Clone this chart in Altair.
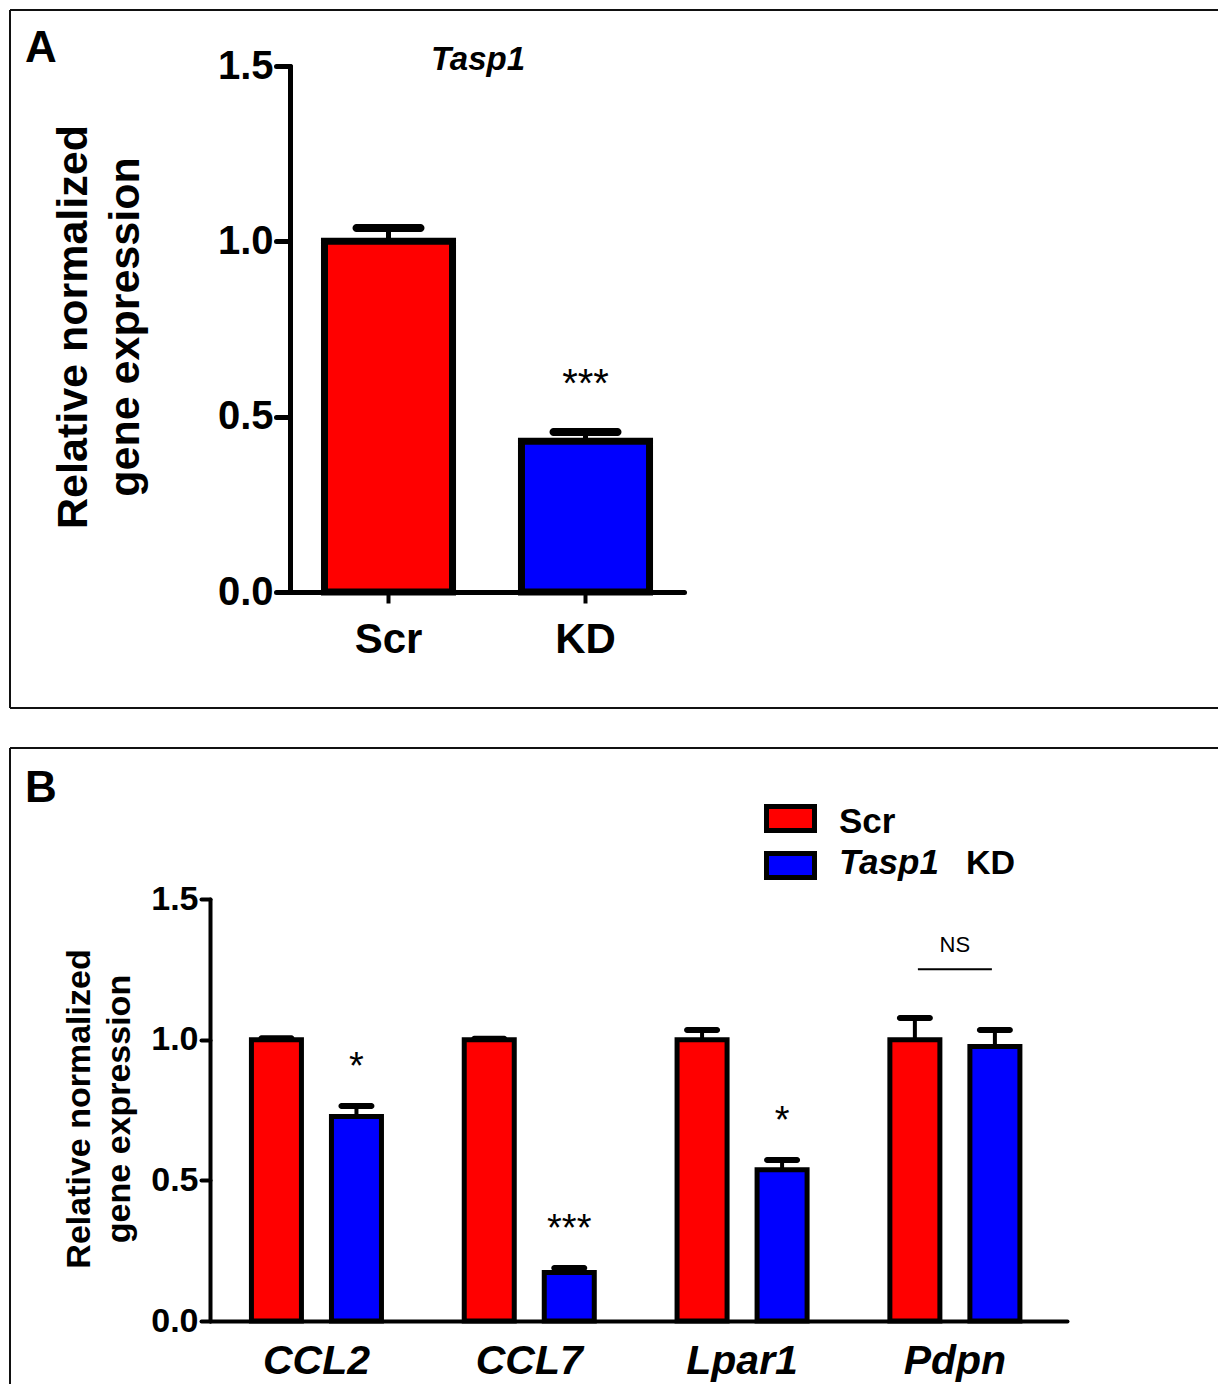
import altair as alt
import pandas as pd

FONT = "Liberation Sans"

# ---------------- data ----------------
# Panel A (Tasp1 knock-down)
a_groups = ["Scr", "KD"]
a_means = [1.0, 0.43]
a_sems = [0.038, 0.026]
a_sig = ["", "***"]

# Panel B (target genes)
b_genes = ["CCL2", "CCL7", "Lpar1", "Pdpn"]
b_series = ["Scr", "KD"]
b_scr_means = [1.0, 1.0, 1.0, 1.0]
b_scr_sems = [0.005, 0.003, 0.034, 0.077]
b_kd_means = [0.727, 0.172, 0.538, 0.976]
b_kd_sems = [0.037, 0.016, 0.034, 0.058]
b_kd_sig = ["*", "***", "*", ""]
ns_gene = ["Pdpn"]
ns_level = [1.25]
ns_label = ["NS"]

y_ticks = [0.0, 0.5, 1.0, 1.5]
series_colors = ["#ff0000", "#0000ff"]

# ---------------- tables ----------------
df_a = pd.DataFrame({
    "group": a_groups,
    "value": a_means,
    "upper": [m + s for m, s in zip(a_means, a_sems)],
    "sig": a_sig,
})

rows = []
for i, g in enumerate(b_genes):
    rows.append({"gene": g, "series": "Scr", "value": b_scr_means[i],
                 "upper": b_scr_means[i] + b_scr_sems[i], "sig": ""})
    rows.append({"gene": g, "series": "KD", "value": b_kd_means[i],
                 "upper": b_kd_means[i] + b_kd_sems[i], "sig": b_kd_sig[i]})
df_b = pd.DataFrame(rows)
df_ns = pd.DataFrame({"gene": ns_gene, "level": ns_level, "label": ns_label})
one = pd.DataFrame({"k": [0]})

W, H = 1210, 1376
color_scale = alt.Scale(domain=b_series, range=series_colors)

# ---------------- panel A ----------------
ya_scale = alt.Scale(domain=[0, 1.5], range=[584, 58], nice=False, zero=True)
xa_scale = alt.Scale(domain=a_groups, range=[282, 676], paddingInner=0.35, paddingOuter=0.175)
ya_axis = alt.Axis(orient="left", values=y_ticks, format=".1f", offset=-282, grid=False,
                   title=None, domainWidth=5, domainColor="black", domainCap="round",
                   tickSize=14, tickWidth=5, tickColor="black", tickCap="round",
                   labelFont=FONT, labelFontSize=40, labelFontWeight="bold",
                   labelColor="black", labelPadding=3, labelFlush=False,
                   labelOverlap=False)
xa_axis = alt.Axis(orient="bottom", offset=584 - H, title=None, domainWidth=5,
                   domainColor="black", domainCap="round", ticks=True, tickSize=11,
                   tickWidth=4, tickColor="black", labelFont=FONT, labelFontSize=42,
                   labelFontWeight="bold", labelColor="black", labelPadding=16,
                   labelAngle=0)
xa = alt.X("group:N", scale=xa_scale, axis=xa_axis, sort=a_groups)

base_a = alt.Chart(df_a)
bars_a = base_a.mark_bar(stroke="black", strokeWidth=7).encode(
    x=xa,
    y=alt.Y("value:Q", scale=ya_scale, axis=ya_axis),
    color=alt.Color("group:N", scale=color_scale, legend=None),
)
stem_a = base_a.mark_rule(strokeWidth=5, color="black").encode(
    x=xa, y=alt.Y("value:Q", scale=ya_scale, axis=ya_axis), y2="upper:Q"
)
cap_a = base_a.mark_tick(size=72, thickness=8, cornerRadius=4, color="black",
                         opacity=1).encode(
    x=xa, y=alt.Y("upper:Q", scale=ya_scale, axis=ya_axis)
)
sig_a = base_a.transform_filter("datum.sig != ''").mark_text(
    font=FONT, fontSize=40, dy=-35, baseline="alphabetic", color="black"
).encode(x=xa, y=alt.Y("upper:Q", scale=ya_scale, axis=ya_axis), text="sig:N")

panel_a = alt.layer(bars_a, stem_a, cap_a, sig_a)

# ---------------- panel B ----------------
yb_scale = alt.Scale(domain=[0, 1.5], range=[1313, 891], nice=False, zero=True)
xb_scale = alt.Scale(domain=b_genes, range=[202, 1059], paddingInner=0.389,
                     paddingOuter=0.208, align=0.468)
xoff_scale = alt.Scale(domain=b_series, paddingInner=0.375, paddingOuter=0)
yb_axis = alt.Axis(orient="left", values=y_ticks, format=".1f", offset=-202, grid=False,
                   title=None, domainWidth=4, domainColor="black", domainCap="round",
                   tickSize=9, tickWidth=4, tickColor="black", tickCap="round",
                   labelFont=FONT, labelFontSize=34, labelFontWeight="bold",
                   labelColor="black", labelPadding=3, labelFlush=False,
                   labelOverlap=False)
xb_axis = alt.Axis(orient="bottom", offset=1313 - H, title=None, domainWidth=4,
                   domainColor="black", domainCap="round", ticks=False, tickSize=0,
                   labelFont=FONT, labelFontSize=41, labelFontWeight="bold",
                   labelFontStyle="italic", labelColor="black", labelPadding=20,
                   labelAngle=0)
xb = alt.X("gene:N", scale=xb_scale, axis=xb_axis, sort=b_genes)
xo = alt.XOffset("series:N", scale=xoff_scale, sort=b_series)

base_b = alt.Chart(df_b)
bars_b = base_b.mark_bar(stroke="black", strokeWidth=5).encode(
    x=xb, xOffset=xo,
    y=alt.Y("value:Q", scale=yb_scale, axis=yb_axis),
    color=alt.Color("series:N", scale=color_scale, legend=None),
)
stem_b = base_b.mark_rule(strokeWidth=4, color="black").encode(
    x=xb, xOffset=xo, y=alt.Y("value:Q", scale=yb_scale, axis=yb_axis), y2="upper:Q"
)
cap_b = base_b.mark_tick(size=36, thickness=6, cornerRadius=3, color="black",
                         opacity=1).encode(
    x=xb, xOffset=xo, y=alt.Y("upper:Q", scale=yb_scale, axis=yb_axis)
)
sig_b = base_b.transform_filter("datum.sig != ''").mark_text(
    font=FONT, fontSize=38, dy=-27, baseline="alphabetic", color="black"
).encode(x=xb, xOffset=xo, y=alt.Y("upper:Q", scale=yb_scale, axis=yb_axis), text="sig:N")

ns_base = alt.Chart(df_ns)
ns_line = ns_base.mark_tick(size=74, thickness=2, color="black", opacity=1).encode(
    x=xb, y=alt.Y("level:Q", scale=yb_scale, axis=yb_axis)
)
ns_text = ns_base.mark_text(font=FONT, fontSize=22, dy=-17, baseline="alphabetic",
                            color="black").encode(
    x=xb, y=alt.Y("level:Q", scale=yb_scale, axis=yb_axis), text="label:N"
)

panel_b = alt.layer(bars_b, stem_b, cap_b, sig_b, ns_line, ns_text)

# ---------------- decorations (frames, titles, legend) ----------------
def txt(s, x, y, size, weight="bold", style="normal", angle=0, align="left"):
    return alt.Chart(one).mark_text(
        font=FONT, fontSize=size, fontWeight=weight, fontStyle=style,
        angle=angle, align=align, baseline="alphabetic", color="black"
    ).encode(x=alt.value(x), y=alt.value(y), text=alt.value(s))

def hline(x1, x2, y):
    return alt.Chart(one).mark_rule(color="#111111", strokeWidth=2).encode(
        x=alt.value(x1), x2=alt.value(x2), y=alt.value(y))

def vline(x, y1, y2):
    return alt.Chart(one).mark_rule(color="#111111", strokeWidth=2).encode(
        x=alt.value(x), y=alt.value(y1), y2=alt.value(y2))

legend_layers = []
for i, s in enumerate(b_series):
    legend_layers.append(
        alt.Chart(pd.DataFrame({"series": [s]})).mark_rect(stroke="black", strokeWidth=5).encode(
            x=alt.value(758.5), x2=alt.value(806.5),
            y=alt.value(798.5 + 47 * i), y2=alt.value(822.5 + 47 * i),
            color=alt.Color("series:N", scale=color_scale, legend=None),
        )
    )

deco = alt.layer(
    hline(2, W, 2), hline(2, W, 700), vline(2, 2, 700),
    hline(2, W, 740), vline(2, 740, H),
    txt("A", 17, 54, 44),
    txt("Tasp1", 470, 62, 33, style="italic", align="center"),
    txt("Relative normalized", 79, 319, 43, angle=270, align="center"),
    txt("gene expression", 131, 319, 43, angle=270, align="center"),
    txt("B", 17, 794, 44),
    txt("Relative normalized", 82, 1101, 34, angle=270, align="center"),
    txt("gene expression", 122, 1101, 34, angle=270, align="center"),
    *legend_layers,
    txt("Scr", 831, 825, 35),
    txt("Tasp1", 831, 866, 35, style="italic"),
    txt("KD", 958, 866, 34),
)

chart = alt.layer(panel_a, panel_b, deco).resolve_scale(
    x="independent", y="independent"
).properties(
    width=W, height=H, padding=0,
    autosize=alt.AutoSizeParams(type="none"),
).configure_view(strokeWidth=0, stroke="transparent")

chart.save("out.html", embed_options={"renderer": "svg", "actions": False})
